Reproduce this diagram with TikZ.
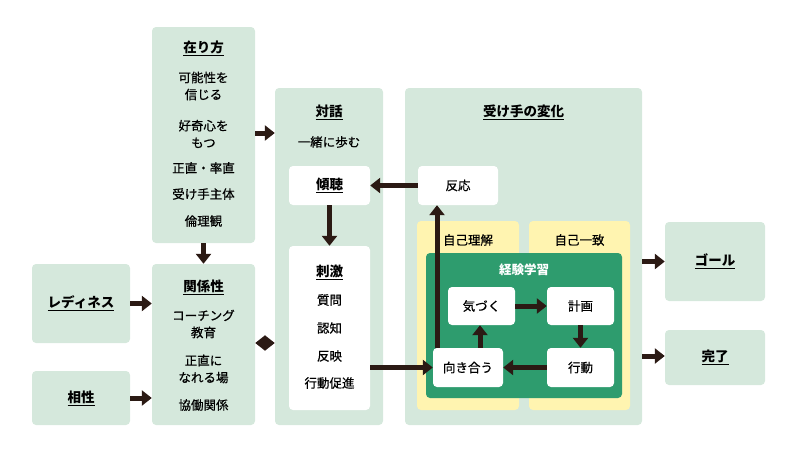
\documentclass[tikz,border=0pt]{standalone}
\usepackage{fontspec}
\setmainfont{Noto Sans CJK JP}
\newfontfamily\jpm{Noto Sans CJK JP}[FakeBold=0.6]
\usetikzlibrary{arrows.meta}
\definecolor{lg}{HTML}{D5E8DC}
\definecolor{yl}{HTML}{FFF4B0}
\definecolor{dg}{HTML}{2E9C6E}
\definecolor{ar}{HTML}{2B1A14}
\begin{document}
\begin{tikzpicture}[x=1pt,y=-1pt,
 box/.style={fill=lg,rounded corners=4pt,inner sep=0pt},
 wbox/.style={fill=white,rounded corners=4pt,inner sep=0pt},
 t/.style={font=\jpm\fontsize{12.5}{17}\selectfont,align=center,text=black},
 tt/.style={font=\fontsize{13.5}{16}\selectfont\bfseries,text=black},
 arr/.style={draw=ar,line width=5pt,-{Triangle[length=10pt,width=15pt]}},
 darr/.style={draw=ar,line width=5pt,{Triangle[length=10pt,width=15pt]}-{Triangle[length=10pt,width=15pt]}}]
\useasboundingbox (0,0) rectangle (790,453);
\node[box,minimum width=103,minimum height=216] (zai) at (203.5,135) {};
\node[box,minimum width=103,minimum height=161] (kan) at (203.5,344.5) {};
\node[box,minimum width=98,minimum height=79] (ready) at (81,303.5) {};
\node[box,minimum width=98,minimum height=54] (aisho) at (81,398) {};
\node[box,minimum width=108,minimum height=337] (taiwa) at (329,256.5) {};
\node[wbox,minimum width=81,minimum height=39] (keicho) at (329.5,185.5) {};
\node[wbox,minimum width=81,minimum height=164] (shigeki) at (329.5,328) {};
\node[box,minimum width=237,minimum height=337] (henka) at (523.5,256.5) {};
\node[wbox,minimum width=80,minimum height=39] (hanno) at (458,185.5) {};
\node[fill=yl,rounded corners=4pt,minimum width=102,minimum height=189] (y1) at (468,315.5) {};
\node[fill=yl,rounded corners=4pt,minimum width=101,minimum height=189] (y2) at (579.5,315.5) {};
\node[fill=dg,rounded corners=4pt,minimum width=196,minimum height=145] (dgb) at (524,325.5) {};
\node[wbox,minimum width=67,minimum height=38,t] (kizuku) at (481.5,306) {気づく};
\node[wbox,minimum width=67,minimum height=38,t] (keikaku) at (580.5,306) {計画};
\node[wbox,minimum width=70,minimum height=39,t] (mukiau) at (468,367.5) {向き合う};
\node[wbox,minimum width=67,minimum height=39,t] (kodo) at (580.5,367.5) {行動};
\node[box,minimum width=100,minimum height=79] (goal) at (715,261.5) {};
\node[box,minimum width=100,minimum height=55] (kanryo) at (715,357.5) {};
% texts
\node[tt] (tzai) at (203.5,48) {\underline{在り方}};
\node[t] (z1) at (203.5,86) {可能性を\\信じる};
\node[t] (z2) at (203.5,134) {好奇心を\\もつ};
\node[t] (z3) at (203.5,168) {正直・率直};
\node[t] (z4) at (203.5,194) {受け手主体};
\node[t] (z5) at (203.5,221) {倫理観};
\node[tt] (tkan) at (203.5,287) {\underline{関係性}};
\node[t] (k1) at (203.5,324) {コーチング\\教育};
\node[t] (k2) at (203.5,369) {正直に\\なれる場};
\node[t] (k3) at (203.5,405) {協働関係};
\node[tt] at (ready) {\underline{レディネス}};
\node[tt] at (aisho) {\underline{相性}};
\node[tt] (ttai) at (329,112) {\underline{対話}};
\node[t] (ta1) at (329,142) {一緒に歩む};
\node[tt] at (keicho) {\underline{傾聴}};
\node[tt] (tshi) at (329.5,272) {\underline{刺激}};
\node[t] (s1) at (329.5,300) {質問};
\node[t] (s2) at (329.5,328) {認知};
\node[t] (s3) at (329.5,356) {反映};
\node[t] (s4) at (329.5,383) {行動促進};
\node[tt] (then) at (523.5,112) {\underline{受け手の変化}};
\node[t] at (hanno) {反応};
\node[t] (ly1) at (468,240) {自己理解};
\node[t] (ly2) at (579.5,240) {自己一致};
\node[t,text=white,font=\fontsize{12.5}{15}\selectfont\bfseries] (ldg) at (524,270) {経験学習};
\node[tt] at (goal) {\underline{ゴール}};
\node[tt] at (kanryo) {\underline{完了}};
% arrows
\draw[arr] (zai.south) -- (kan.north);
\draw[arr] (ready.east) -- (kan.west |- ready.east);
\draw[arr] (aisho.east) -- (kan.west |- aisho.east);
\draw[darr] (kan.east |- 0,343) -- (taiwa.west |- 0,343);
\draw[arr] (zai.east |- 0,133) -- (taiwa.west |- 0,133);
\draw[arr] (keicho.south) -- (shigeki.north);
\draw[arr] (hanno.west) -- (keicho.east);
\draw[arr] (shigeki.east |- mukiau.west) -- (mukiau.west);
\draw[arr] (mukiau.north -| 437,0) -- (hanno.south -| 437,0);
\draw[arr] (kizuku.east) -- (keikaku.west);
\draw[arr] (keikaku.south) -- (kodo.north);
\draw[arr] (kodo.west) -- (mukiau.east);
\draw[arr] (mukiau.north -| 480,0) -- (kizuku.south -| 480,0);
\draw[arr] (henka.east |- goal.west) -- (goal.west);
\draw[arr] (henka.east |- 0,356) -- (kanryo.west |- 0,356);
\end{tikzpicture}
\end{document}
